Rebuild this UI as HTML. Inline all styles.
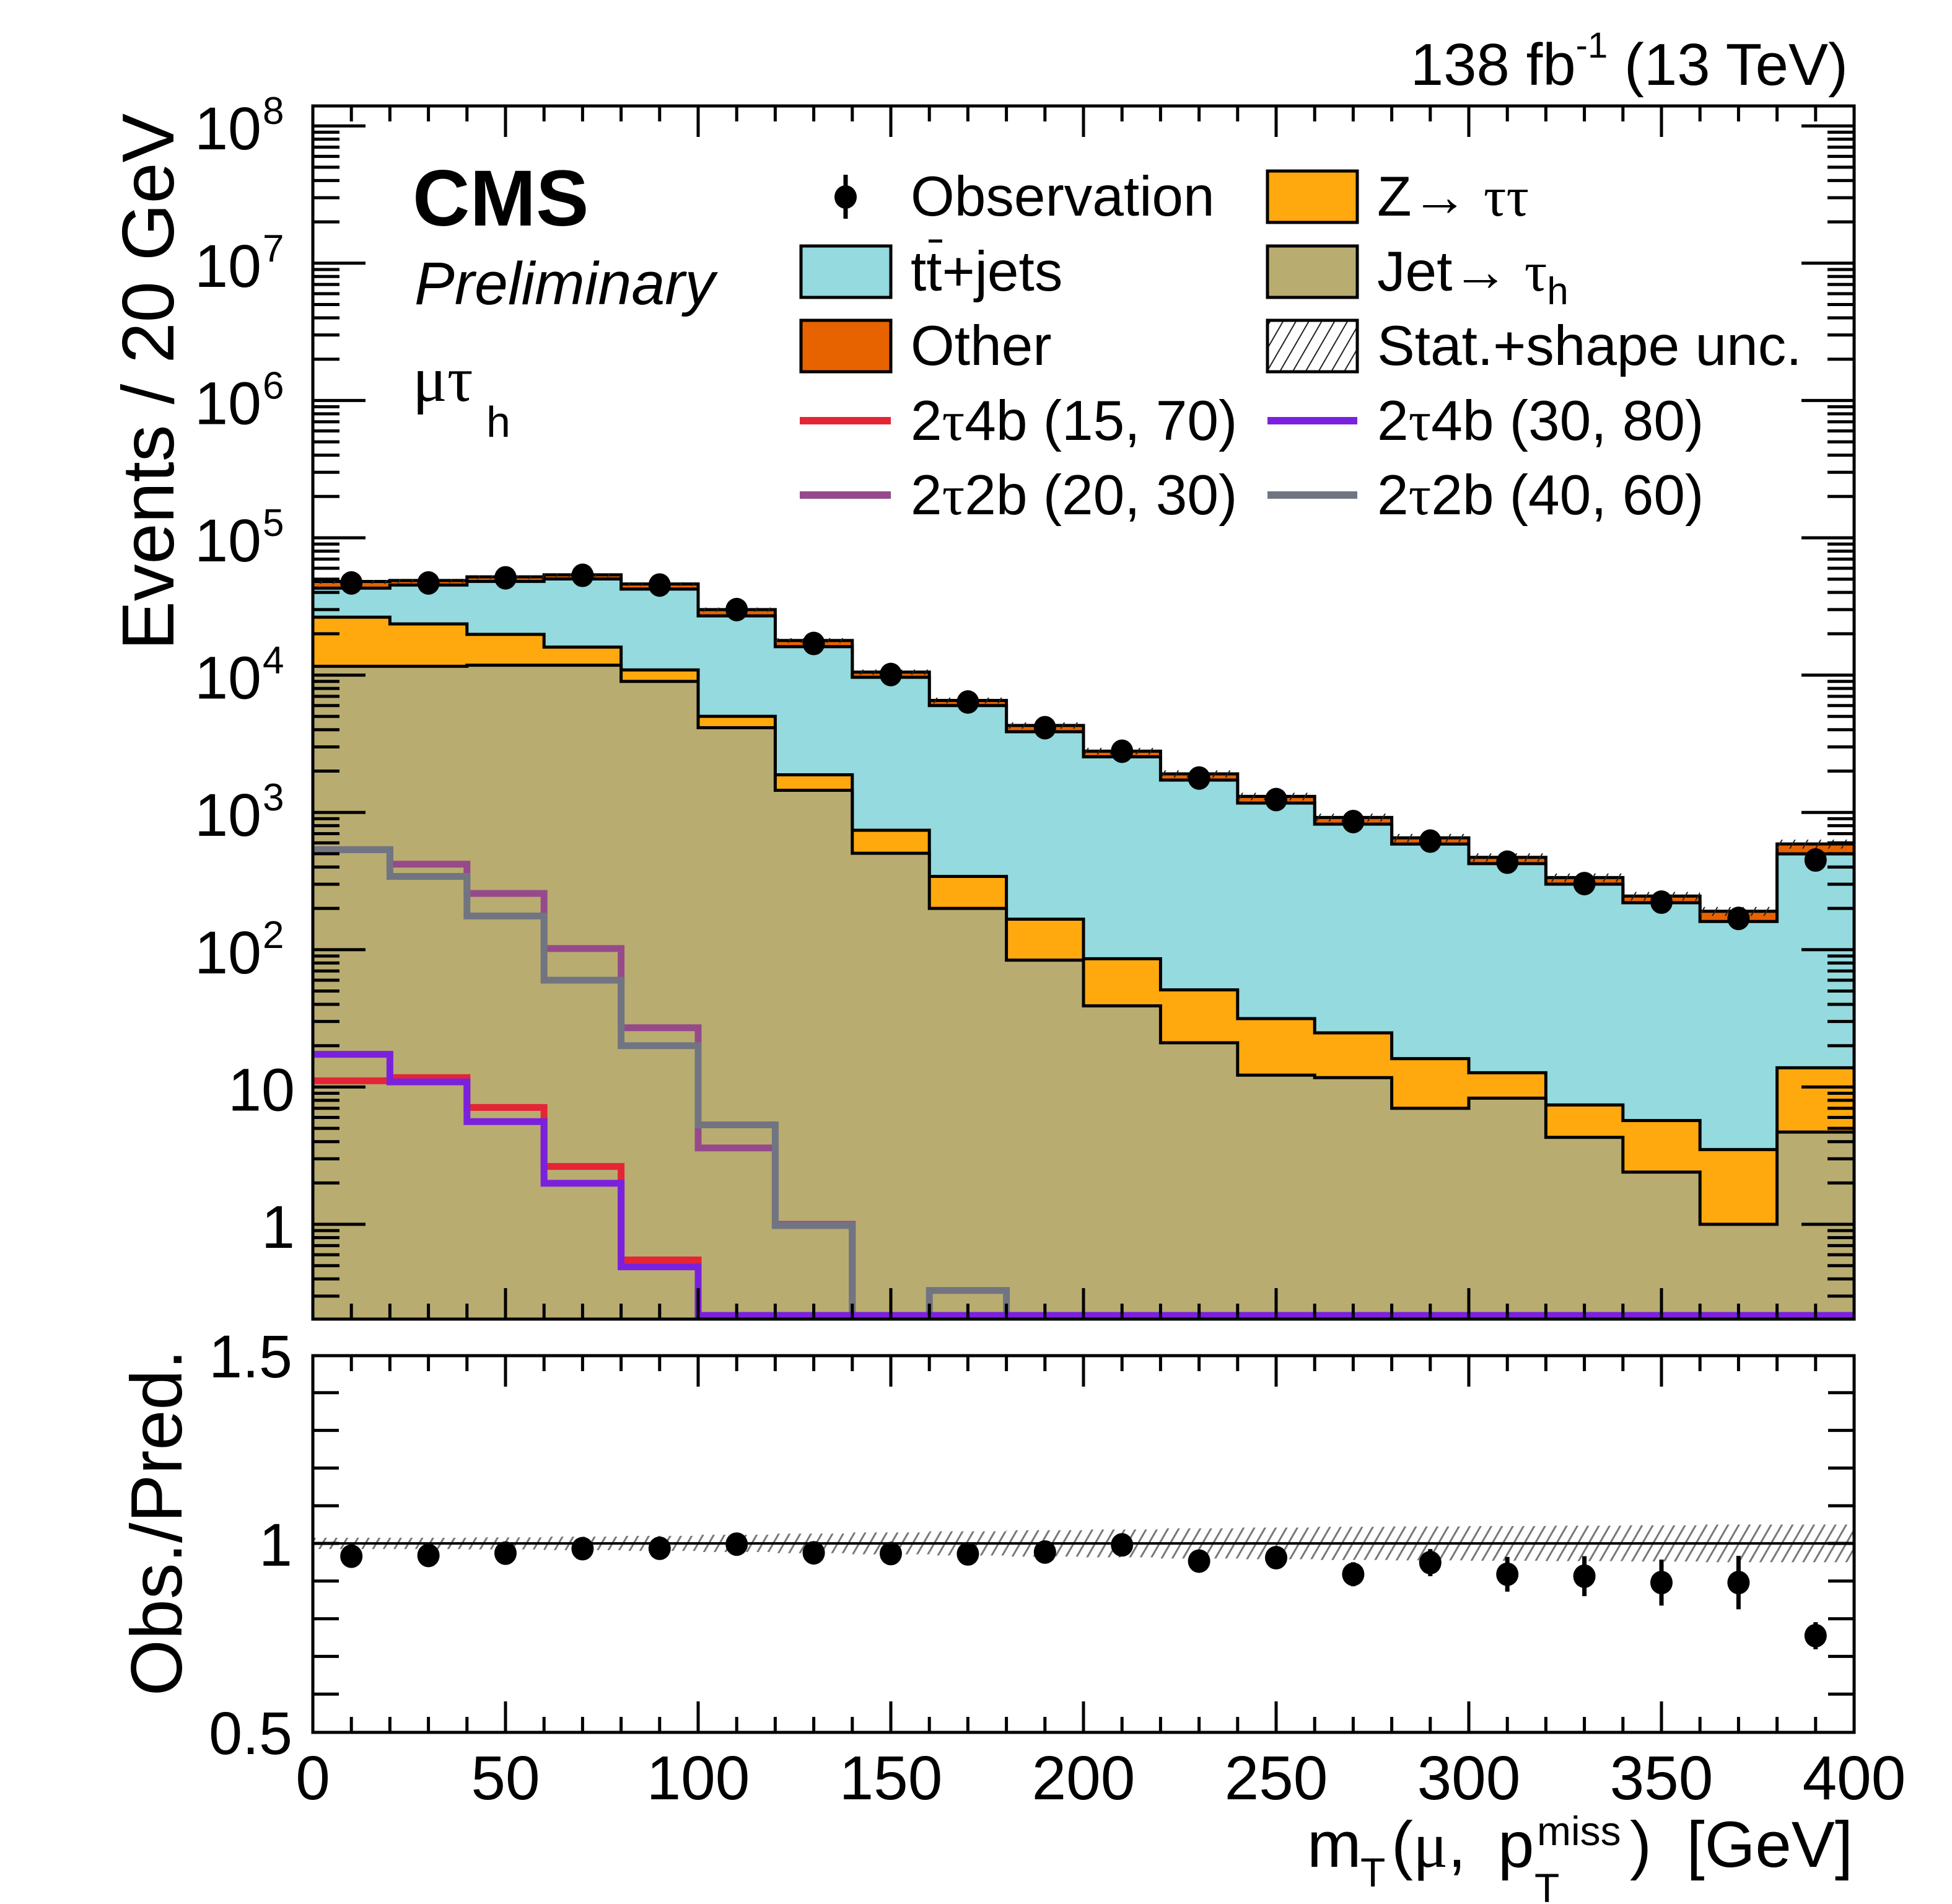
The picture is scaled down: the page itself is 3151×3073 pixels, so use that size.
<!DOCTYPE html>
<html><head><meta charset="utf-8"><style>
html,body{margin:0;padding:0;background:#fff;}
svg{display:block;font-family:"Liberation Sans",sans-serif;}
</style></head><body>
<svg id="chart" xmlns="http://www.w3.org/2000/svg" width="3151" height="3073" viewBox="0 0 3151 3073">
<defs>
<pattern id="hatchBlack" patternUnits="userSpaceOnUse" width="18" height="18" patternTransform="rotate(30)">
<line x1="0" y1="0" x2="0" y2="18" stroke="#222" stroke-width="4"/></pattern>
<pattern id="hatchGray" patternUnits="userSpaceOnUse" width="15" height="15" patternTransform="rotate(30)">
<line x1="0" y1="0" x2="0" y2="15" stroke="#777" stroke-width="6"/></pattern>
<clipPath id="mainClip"><rect x="505" y="171" width="2488" height="1958"/></clipPath>
<clipPath id="ratioClip"><rect x="505" y="2188" width="2488" height="608"/></clipPath>
</defs>
<g id="mainG" clip-path="url(#mainClip)"></g>
<g id="ratioG" clip-path="url(#ratioClip)"></g>
<g id="axesG"></g>

<text x="2983" y="137" font-size="96" text-anchor="end">138 fb<tspan font-size="58" dy="-44">-1</tspan><tspan dy="44"> (13 TeV)</tspan></text>
<text x="666" y="364" font-size="128" font-weight="bold">CMS</text>
<text x="669" y="491" font-size="97" font-style="italic">Preliminary</text>
<text x="666" y="647" font-size="104" font-family="Liberation Serif, serif">μτ</text>
<text x="785" y="705" font-size="70">h</text>

<text transform="translate(280,183) rotate(-90)" font-size="119" text-anchor="end">Events / 20 GeV</text>
<text transform="translate(293,2178) rotate(-90)" font-size="117" text-anchor="end">Obs./Pred.</text>

<g font-size="105">
<text x="2110" y="3013">m</text>
<text x="2196" y="3045" font-size="66">T</text>
<text x="2246" y="3013">(<tspan font-family="Liberation Serif, serif">μ</tspan>,</text>
<text x="2418" y="3013">p</text>
<text x="2477" y="3070" font-size="66">T</text>
<text x="2481" y="2978" font-size="66">miss</text>
<text x="2631" y="3013">)</text>
<text x="2991" y="3013" text-anchor="end">[GeV]</text>
</g>

<g id="legend" font-size="91">
<g>
<line x1="1365" y1="282" x2="1365" y2="353" stroke="#000" stroke-width="7"/>
<ellipse cx="1365" cy="318" rx="18" ry="19" fill="#000"/>
<text x="1470" y="348">Observation</text></g>
<g>
<rect x="1293" y="397" width="145" height="83" fill="#94DADE" stroke="#000" stroke-width="5"/>
<text x="1470" y="469">tt+jets</text>
<line x1="1499" y1="389" x2="1521" y2="389" stroke="#000" stroke-width="5"/></g>
<g>
<rect x="1293" y="517" width="145" height="83" fill="#E76300" stroke="#000" stroke-width="5"/>
<text x="1470" y="589">Other</text></g>
<g>
<line x1="1291" y1="679" x2="1438" y2="679" stroke="#E42536" stroke-width="12"/>
<text x="1470" y="710">2<tspan font-family="Liberation Serif, serif">τ</tspan>4b (15, 70)</text></g>
<g>
<line x1="1291" y1="799" x2="1438" y2="799" stroke="#964A8B" stroke-width="12"/>
<text x="1470" y="830">2<tspan font-family="Liberation Serif, serif">τ</tspan>2b (20, 30)</text></g>
<g>
<rect x="2046" y="276" width="145" height="83" fill="#FFA90E" stroke="#000" stroke-width="5"/>
<text x="2223" y="348">Z→ <tspan font-family="Liberation Serif, serif">ττ</tspan></text></g>
<g>
<rect x="2046" y="397" width="145" height="83" fill="#B9AC70" stroke="#000" stroke-width="5"/>
<text x="2223" y="469">Jet→ <tspan font-family="Liberation Serif, serif">τ</tspan><tspan font-size="62" dy="22">h</tspan></text></g>
<g>
<rect x="2046" y="517" width="145" height="83" fill="url(#hatchBlack)" stroke="#000" stroke-width="5"/>
<text x="2223" y="589">Stat.+shape unc.</text></g>
<g>
<line x1="2046" y1="679" x2="2191" y2="679" stroke="#7A21DD" stroke-width="12"/>
<text x="2223" y="710">2<tspan font-family="Liberation Serif, serif">τ</tspan>4b (30, 80)</text></g>
<g>
<line x1="2046" y1="799" x2="2191" y2="799" stroke="#717581" stroke-width="12"/>
<text x="2223" y="830">2<tspan font-family="Liberation Serif, serif">τ</tspan>2b (40, 60)</text></g>
</g>
</svg>
<script>
// ---- data ----
const binEdges = [0,20,40,60,80,100,120,140,160,180,200,220,240,260,280,300,320,340,360,380,400];
const jetFakes = [11600,11600,11800,11800,9000,4140,1450,504,200,84,39,21,12.2,11.7,7.0,8.3,4.3,2.4,1.0,4.7];
const zTauTau = [14800,12000,8000,4200,1900,870,430,237,142,83,47,30,19.3,13.1,9.1,4.4,3.1,3.3,2.5,9.1];
const ttbar = [16600,21700,28300,34200,31400,22000,14220,8900,5658,3703,2454,1669,1138,797,572,411,293,214,157,485];
const other = [5070,3600,3850,3560,3800,2970,1770,870,540,426,254,189,138,97,65,47,35,26,30,90];
const observed = [46900,46900,51100,53300,45300,30000,17000,10100,6370,4140,2790,1780,1240,858,618,434,303,222,169,450];
const sig2t4b1570 = [11.1,11.7,7.1,2.64,0.55,0,0,0,0,0,0,0,0,0,0,0,0,0,0,0];
const sig2t4b3080 = [17.3,10.9,5.6,1.99,0.49,0,0,0,0,0,0,0,0,0,0,0,0,0,0,0];
const sig2t2b2030 = [535,420,257,102,27,3.6,1.0,0,0,0,0,0,0,0,0,0,0,0,0,0];
const sig2t2b4060 = [535,342,176,60,20,5.3,0.98,0,0.33,0,0,0,0,0,0,0,0,0,0,0];
const ratio = [0.966,0.968,0.974,0.986,0.987,0.998,0.975,0.973,0.972,0.977,0.996,0.953,0.962,0.918,0.949,0.918,0.913,0.896,0.896,0.755];
const ratioErr = [0.005,0.005,0.005,0.005,0.005,0.007,0.008,0.01,0.013,0.016,0.019,0.024,0.028,0.032,0.036,0.046,0.053,0.061,0.071,0.036];
const uncFrac = [0.015,0.015,0.016,0.018,0.02,0.023,0.026,0.029,0.032,0.035,0.037,0.04,0.042,0.044,0.045,0.046,0.047,0.048,0.05,0.05];
const xTickLabels = ["0","50","100","150","200","250","300","350","400"];
const yDecades = [0,1,2,3,4,5,6,7,8];
const ratioTickLabels = ["0.5","1","1.5"];

// ---- axes ----
const X0=505, X1=2993, YT=171, YB=2129, RT=2188, RB=2796;
function xS(v){return X0+(v/400)*(X1-X0);}
function yS(v){ if(v<=0) return YB+20; const y=1976-221.6*Math.log10(v); return Math.min(y,YB+20);}
function rS(r){return 2491-(r-1)*608;}
const NS="http://www.w3.org/2000/svg";
function mk(tag,attrs,parent){const e=document.createElementNS(NS,tag);for(const k in attrs)e.setAttribute(k,attrs[k]);parent.appendChild(e);return e;}
const mainG=document.getElementById('mainG'), ratioG=document.getElementById('ratioG'), axesG=document.getElementById('axesG');

function stepPath(vals,closed){
  let d='';
  for(let i=0;i<vals.length;i++){
    const xa=xS(binEdges[i]), xb=xS(binEdges[i+1]), y=yS(vals[i]);
    d+=(i===0?(closed?'M'+xa+','+(YB+30)+' L':'M'):' L')+xa+','+y+' L'+xb+','+y;
  }
  if(closed) d+=' L'+xS(400)+','+(YB+30)+' Z';
  return d;
}
const cumJet=jetFakes.slice();
const cumZ=jetFakes.map((v,i)=>v+zTauTau[i]);
const cumTT=cumZ.map((v,i)=>v+ttbar[i]);
const cumAll=cumTT.map((v,i)=>v+other[i]);

const stacks=[[cumAll,'#E76300','stack-other'],[cumTT,'#94DADE','stack-ttbar'],[cumZ,'#FFA90E','stack-ztautau'],[cumJet,'#B9AC70','stack-jet-fakes']];
for(const [vals,col,name] of stacks){
  const p=mk('path',{d:stepPath(vals,true),fill:col,stroke:'#000','stroke-width':5,'stroke-linejoin':'miter'},mainG);
  
  
}
for(let i=0;i<cumAll.length;i++){
  const xa=xS(binEdges[i]), xb=xS(binEdges[i+1]);
  const y1=yS(cumAll[i]*(1+uncFrac[i]*1.5)), y2=yS(cumAll[i]*(1-uncFrac[i]*1.5));
  const r=mk('rect',{x:xa,y:y1,width:xb-xa,height:Math.max(y2-y1,6),fill:'url(#hatchBlack)'},mainG);
  
  
}
const sigs=[[sig2t2b2030,'#964A8B','signal-2t2b-20-30'],[sig2t2b4060,'#717581','signal-2t2b-40-60'],[sig2t4b1570,'#E42536','signal-2t4b-15-70'],[sig2t4b3080,'#7A21DD','signal-2t4b-30-80']];
for(const [vals,col,name] of sigs){
  const clipped=vals.map(v=>v<=0.2?0.2:v);
  let d='';
  for(let i=0;i<clipped.length;i++){
    const xa=xS(binEdges[i]), xb=xS(binEdges[i+1]), y=Math.min(yS(clipped[i]),YB-6);
    d+=(i===0?'M':' L')+xa+','+y+' L'+xb+','+y;
  }
  const p=mk('path',{d:d,fill:'none',stroke:col,'stroke-width':11},mainG);
  
  
}
for(let i=0;i<observed.length;i++){
  const cx=(xS(binEdges[i])+xS(binEdges[i+1]))/2, cy=yS(observed[i]);
  const c=mk('ellipse',{cx:cx,cy:cy,rx:18,ry:19,fill:'#000'},mainG);
  
  
}
for(let i=0;i<uncFrac.length;i++){
  const xa=xS(binEdges[i]), xb=xS(binEdges[i+1]);
  const r=mk('rect',{x:xa,y:rS(1+uncFrac[i]),width:xb-xa,height:rS(1-uncFrac[i])-rS(1+uncFrac[i]),fill:'url(#hatchGray)'},ratioG);
  
  
}
const ul=mk('line',{x1:X0,y1:rS(1),x2:X1,y2:rS(1),stroke:'#000','stroke-width':4},ratioG);


for(let i=0;i<ratio.length;i++){
  const cx=(xS(binEdges[i])+xS(binEdges[i+1]))/2;
  const eb=mk('line',{x1:cx,y1:rS(ratio[i]+ratioErr[i]),x2:cx,y2:rS(ratio[i]-ratioErr[i]),stroke:'#000','stroke-width':7},ratioG);
  
  
  const c=mk('ellipse',{cx:cx,cy:rS(ratio[i]),rx:18,ry:19,fill:'#000'},ratioG);
  
  
}
for(const [t,b,n] of [[YT,YB,'main-frame'],[RT,RB,'ratio-frame']]){
  const f=mk('rect',{x:X0,y:t,width:X1-X0,height:b-t,fill:'none',stroke:'#000','stroke-width':5},axesG);
  
  
}
let td='';
for(let v=10;v<400;v+=10){
  const x=xS(v), L=(v%50===0)?50:25;
  for(const [t,b] of [[YT,YB],[RT,RB]]){ td+=`M${x},${t} V${t+L} M${x},${b} V${b-L} `; }
}
for(let d=-1;d<=8;d++){
  for(let m=1;m<=9;m++){
    const v=m*Math.pow(10,d); const y=yS(v);
    if(y<YT+2||y>YB-2) continue;
    const L=(m===1)?85:43;
    td+=`M${X0},${y} H${X0+L} M${X1},${y} H${X1-L} `;
  }
}
for(let k=1;k<10;k++){ const y=rS(0.5+k*0.1); td+=`M${X0},${y} H${X0+42} M${X1},${y} H${X1-42} `; }
const tp=mk('path',{d:td,stroke:'#000','stroke-width':5,fill:'none'},axesG);


xTickLabels.forEach((lab,i)=>{
  const t=mk('text',{x:xS(Number(lab)),y:2904,'font-size':100,'text-anchor':'middle'},axesG);
  t.textContent=lab;
  
  
});
yDecades.forEach(d=>{
  const y=yS(Math.pow(10,d));
  if(d===0||d===1){
    const t=mk('text',{x:476,y:y+38,'font-size':97,'text-anchor':'end'},axesG);
    t.textContent=(d===0?'1':'10');
    
    
  } else {
    const t=mk('text',{x:422,y:y+38,'font-size':97,'text-anchor':'end'},axesG);
    t.textContent='10';
    
    
    const e=mk('text',{x:424,y:y-3,'font-size':62},axesG);
    e.textContent=String(d);
    
    
  }
});
ratioTickLabels.forEach(lab=>{
  const t=mk('text',{x:472,y:rS(Number(lab))+36,'font-size':97,'text-anchor':'end'},axesG);
  t.textContent=lab;
  
  
});
</script>
</body></html>
